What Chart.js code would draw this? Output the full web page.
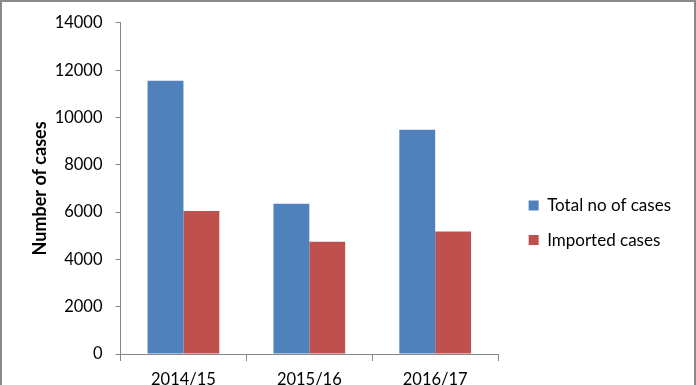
<!DOCTYPE html>
<html>
<head>
<meta charset="utf-8">
<script src="https://cdn.jsdelivr.net/npm/chart.js@4/dist/chart.umd.min.js"></script>
<style>
    html, body { margin: 0; padding: 0; background: #fff; overflow: hidden; }
    #wrap { position: relative; width: 696px; height: 385px; overflow: hidden; }
    #chartBox { position: absolute; left: 0; top: 0; width: 696px; height: 423px; }
    #frame {
        position: absolute; left: 0; top: 0; width: 692px; height: 500px;
        border: 2px solid #8a8a8a; pointer-events: none;
    }
</style>
</head>
<body>
<div id="wrap">
    <div id="chartBox"><canvas id="casesChart" width="696" height="423"></canvas></div>
    <div id="frame"></div>
</div>
<script>
// datos
const years = ['2014/15', '2015/16', '2016/17'];
const totalCases = [11550, 6350, 9480];
const importedCases = [6050, 4750, 5180];
const seriesNames = ['Total no of cases', 'Imported cases'];
const yTicks = [0, 2000, 4000, 6000, 8000, 10000, 12000, 14000];

const axisGrey = '#868686';
const fontName = 'Lato';

function initChart() {
    const ctx = document.getElementById('casesChart').getContext('2d');
    new Chart(ctx, {
        type: 'bar',
        data: {
            labels: years,
            datasets: [{
                label: seriesNames[0],
                data: totalCases,
                backgroundColor: '#4f81bd',
                borderWidth: 0,
                categoryPercentage: 0.57,
                barPercentage: 1
            }, {
                label: seriesNames[1],
                data: importedCases,
                backgroundColor: '#c0504d',
                borderWidth: 0,
                categoryPercentage: 0.57,
                barPercentage: 1
            }]
        },
        options: {
            responsive: false,
            animation: false,
            layout: { padding: { top: 22.7, left: 0, right: 15, bottom: 0 } },
            plugins: {
                tooltip: { enabled: false },
                legend: {
                    position: 'right',
                    align: 'center',
                    maxWidth: 220,
                    labels: {
                        boxWidth: 10,
                        boxHeight: 10,
                        padding: 17.5,
                        color: '#000',
                        font: { family: fontName, size: 17 }
                    }
                }
            },
            scales: {
                x: {
                    grid: {
                        display: true,
                        drawOnChartArea: false,
                        drawTicks: true,
                        tickLength: 7,
                        color: axisGrey
                    },
                    border: { display: true, color: axisGrey },
                    ticks: {
                        color: '#000',
                        padding: 9,
                        font: { family: fontName, size: 16.5 }
                    },
                    afterFit: s => { s.height = 69; }
                },
                y: {
                    min: 0,
                    max: 14000,
                    afterBuildTicks: s => { s.ticks = yTicks.map(v => ({ value: v })); },
                    grid: {
                        display: true,
                        drawOnChartArea: false,
                        drawTicks: true,
                        tickLength: 5,
                        color: axisGrey
                    },
                    border: { display: true, color: axisGrey },
                    ticks: {
                        color: '#000',
                        padding: 13,
                        font: { family: fontName, size: 16.5 },
                        callback: v => String(v)
                    },
                    title: {
                        display: true,
                        text: 'Number of cases',
                        color: '#000',
                        padding: { top: 29, bottom: 0 },
                        font: { family: fontName, size: 18, weight: 'bold' }
                    },
                    afterFit: s => { s.width = 120.5; }
                },
                // hueco entre el área y la leyenda
                gap: {
                    type: 'linear',
                    position: 'right',
                    display: true,
                    grid: { display: false },
                    border: { display: false },
                    ticks: { display: false },
                    afterFit: s => { s.width = 13; }
                }
            }
        }
    });
}

document.fonts.load('16px Lato').then(() => document.fonts.load('bold 18px Lato')).then(initChart, initChart);
</script>
</body>
</html>
